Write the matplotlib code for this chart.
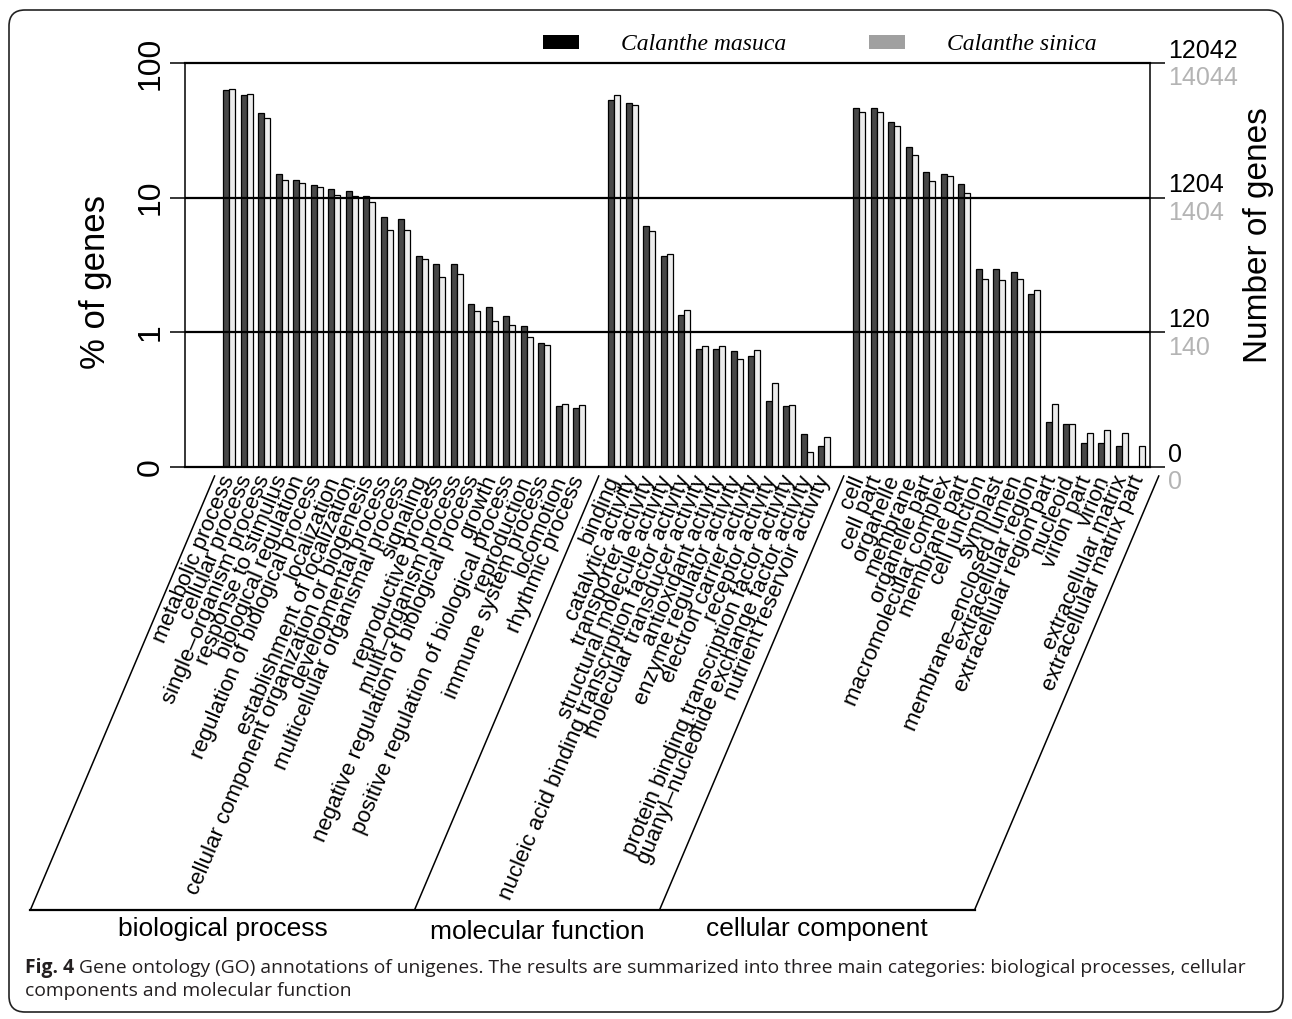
import numpy as np
import matplotlib
matplotlib.use('Agg')
import matplotlib.pyplot as plt
from matplotlib.patches import Patch, FancyBboxPatch
from matplotlib.lines import Line2D
from matplotlib.transforms import IdentityTransform, blended_transform_factory, offset_copy

# ---------------- data ----------------
bp_terms = ["metabolic process", "cellular process", "single\u2013organism process",
            "response to stimulus", "biological regulation",
            "regulation of biological process", "localization",
            "establishment of localization",
            "cellular component organization or biogenesis",
            "developmental process", "multicellular organismal process", "signaling",
            "reproductive process", "multi\u2013organism process",
            "negative regulation of biological process", "growth",
            "positive regulation of biological process", "reproduction",
            "immune system process", "locomotion", "rhythmic process"]
bp_masuca = [62.9, 58.0, 42.8, 14.9, 13.6, 12.4, 11.5, 11.3, 10.3, 7.2, 7.0,
             3.7, 3.2, 3.2, 1.62, 1.53, 1.32, 1.12, 0.83, 0.284, 0.276]
bp_sinica = [64.0, 59.0, 38.9, 13.6, 12.9, 12.1, 10.5, 10.3, 9.3, 5.8, 5.8,
             3.5, 2.56, 2.7, 1.45, 1.22, 1.14, 0.92, 0.81, 0.295, 0.287]

mf_terms = ["binding", "catalytic activity", "transporter activity",
            "structural molecule activity",
            "nucleic acid binding transcription factor activity",
            "molecular transducer activity", "antioxidant activity",
            "enzyme regulator activity", "electron carrier activity",
            "receptor activity", "protein binding transcription factor activity",
            "guanyl\u2013nucleotide exchange factor activity",
            "nutrient reservoir activity"]
mf_masuca = [53.0, 50.6, 6.11, 3.67, 1.34, 0.751, 0.751, 0.722, 0.670, 0.311,
             0.284, 0.175, 0.143]
mf_sinica = [57.7, 48.6, 5.67, 3.84, 1.46, 0.787, 0.787, 0.636, 0.734, 0.424,
             0.287, 0.130, 0.166]

cc_terms = ["cell", "cell part", "organelle", "membrane", "organelle part",
            "macromolecular complex", "membrane part", "cell junction", "symplast",
            "membrane\u2013enclosed lumen", "extracellular region",
            "extracellular region part", "nucleoid", "virion part", "virion",
            "extracellular matrix", "extracellular matrix part"]
cc_masuca = [46.7, 46.7, 36.7, 23.8, 15.4, 14.9, 12.6, 2.97, 2.94, 2.80, 1.94,
             0.217, 0.207, 0.150, 0.150, 0.143, 0.0]
cc_sinica = [43.6, 43.6, 34.1, 20.7, 13.4, 14.4, 10.9, 2.47, 2.44, 2.47, 2.05,
             0.295, 0.207, 0.179, 0.188, 0.179, 0.144]

group_names = ["biological process", "molecular function", "cellular component"]
series_names = ["Calanthe masuca", "Calanthe sinica"]
left_ticks = [0.1, 1, 10, 100]
left_labels = ["0", "1", "10", "100"]
right_labels_masuca = ["0", "120", "1204", "12042"]
right_labels_sinica = ["0", "140", "1404", "14044"]
caption_bold = "Fig. 4"
caption_line1 = ("Gene ontology (GO) annotations of unigenes. The results are summarized "
                 "into three main categories: biological processes, cellular")
caption_line2 = "components and molecular function"

# ---------------- figure ----------------
W, H = 1292, 1019
plt.rcParams['font.family'] = ['Liberation Sans', 'DejaVu Sans']
fig = plt.figure(figsize=(W / 100, H / 100), dpi=100)


def fx(px):
    return px / W


def fy(py):
    return 1 - py / H


ax = fig.add_axes([fx(185), fy(467), fx(1150) - fx(185), fy(63) - fy(467)])
ax.set_yscale('log')
YMIN = 0.1
ax.set_ylim(YMIN, 100)

groups = [(bp_terms, bp_masuca, bp_sinica),
          (mf_terms, mf_masuca, mf_sinica),
          (cc_terms, cc_masuca, cc_sinica)]
GAP = 1
BW = 0.343
xs, terms, vm, vs = [], [], [], []
group_ranges = []
start = 0
for gi, (t, m, s) in enumerate(groups):
    if gi > 0:
        start += GAP
    pos = list(range(start, start + len(t)))
    group_ranges.append((pos[0], pos[-1]))
    xs += pos
    terms += t
    vm += m
    vs += s
    start += len(t)
xs = np.array(xs, dtype=float)
vm = np.array(vm)
vs = np.array(vs)

ax.bar(xs, np.maximum(vm, YMIN) - YMIN, bottom=YMIN, width=BW, align='edge',
       color='#474747', edgecolor='black', linewidth=0.9, zorder=2)
ax.bar(xs + BW, np.maximum(vs, YMIN) - YMIN, bottom=YMIN, width=BW, align='edge',
       color='#ececec', edgecolor='black', linewidth=0.9, zorder=2)

ax.set_xlim(-2.19, 52.95)

for v in [1, 10]:
    ax.axhline(v, color='black', lw=1.6, zorder=3)
for side in ['top', 'bottom']:
    ax.spines[side].set_linewidth(1.6)
for side in ['left', 'right']:
    ax.spines[side].set_linewidth(1.1)

# x tick labels
ax.set_xticks(xs + BW)
ax.set_xticklabels(terms, fontsize=16)
plt.setp(ax.get_xticklabels(), rotation=67, ha='right', va='center',
         rotation_mode='anchor')
ax.tick_params(axis='x', length=0, pad=7)

# left y axis
ax.yaxis.set_minor_locator(matplotlib.ticker.NullLocator())
ax.set_yticks(left_ticks)
ax.set_yticklabels(left_labels, fontsize=23, rotation=90, va='center')
ax.tick_params(axis='y', which='major', direction='out', length=11, width=1.1,
               pad=3, right=True)

# right y axis labels (two colours)
trans = blended_transform_factory(ax.transAxes, ax.transData)
for v, lb_m, lb_s in zip(left_ticks, right_labels_masuca, right_labels_sinica):
    ax.text(1.0, v, lb_m, transform=offset_copy(trans, fig=fig, x=13, y=9, units='points'),
            ha='left', va='center', fontsize=18, color='black', clip_on=False)
    ax.text(1.0, v, lb_s, transform=offset_copy(trans, fig=fig, x=13, y=-11, units='points'),
            ha='left', va='center', fontsize=18, color='#b4b4b4', clip_on=False)

fig.text(fx(95), fy(282), "% of genes", rotation=90, fontsize=25, ha='center', va='center')
fig.text(fx(1258), fy(235), "Number of genes", rotation=90, fontsize=24,
         ha='center', va='center')

# legend
handles = [Patch(facecolor='black', edgecolor='none'),
           Patch(facecolor='#a0a0a0', edgecolor='none')]
fig.legend(handles, series_names, loc='center', bbox_to_anchor=(fx(820), fy(45)),
           ncol=2, frameon=False,
           prop=dict(family='Liberation Serif', style='italic', size=17),
           handlelength=1.5, handleheight=0.5, handletextpad=1.8, columnspacing=3.5)

# slanted group dividers and baseline
TOP_PY, BOT_PY = 476, 910
ANG = np.deg2rad(67)
dx_px = (BOT_PY - TOP_PY) / np.tan(ANG)
div_x = [group_ranges[0][0] - 0.5]
for gi in range(1, len(group_ranges)):
    div_x.append(group_ranges[gi - 1][1] + 1 + 0.45)
div_x.append(group_ranges[-1][1] + 1.45)
bottoms = []
for dxv in div_x:
    xtop_px = ax.transData.transform((dxv, 1))[0]
    xbot_px = xtop_px - dx_px
    bottoms.append(xbot_px)
    fig.add_artist(Line2D([fx(xtop_px), fx(xbot_px)], [fy(TOP_PY), fy(BOT_PY)],
                          transform=fig.transFigure, color='black', lw=1.1))
fig.add_artist(Line2D([fx(bottoms[0]), fx(bottoms[-1])], [fy(BOT_PY), fy(BOT_PY)],
                      transform=fig.transFigure, color='black', lw=1.6))
for gi, name in enumerate(group_names):
    cx = (bottoms[gi] + bottoms[gi + 1]) / 2
    fig.text(fx(cx), fy(929 if gi != 1 else 932), name, fontsize=19,
             ha='center', va='center')

# outer frame
frame = FancyBboxPatch((9, 7), 1274, 1002, boxstyle='round,pad=0,rounding_size=16',
                       transform=IdentityTransform(), fill=False, ec='#222222', lw=1.2)
fig.add_artist(frame)

# caption
cap_font = dict(family=['Open Sans', 'DejaVu Sans'], size=13.9, color='#231f20')
tb = fig.text(fx(25), fy(968), caption_bold, fontweight='bold', va='center', **cap_font)
r = fig.canvas.get_renderer()
bb = tb.get_window_extent(r)
fig.text((bb.x1 + 5) / W, fy(968), caption_line1, va='center', **cap_font)
fig.text(fx(25), fy(991), caption_line2, va='center', **cap_font)

fig.savefig('out.png', dpi=100)
